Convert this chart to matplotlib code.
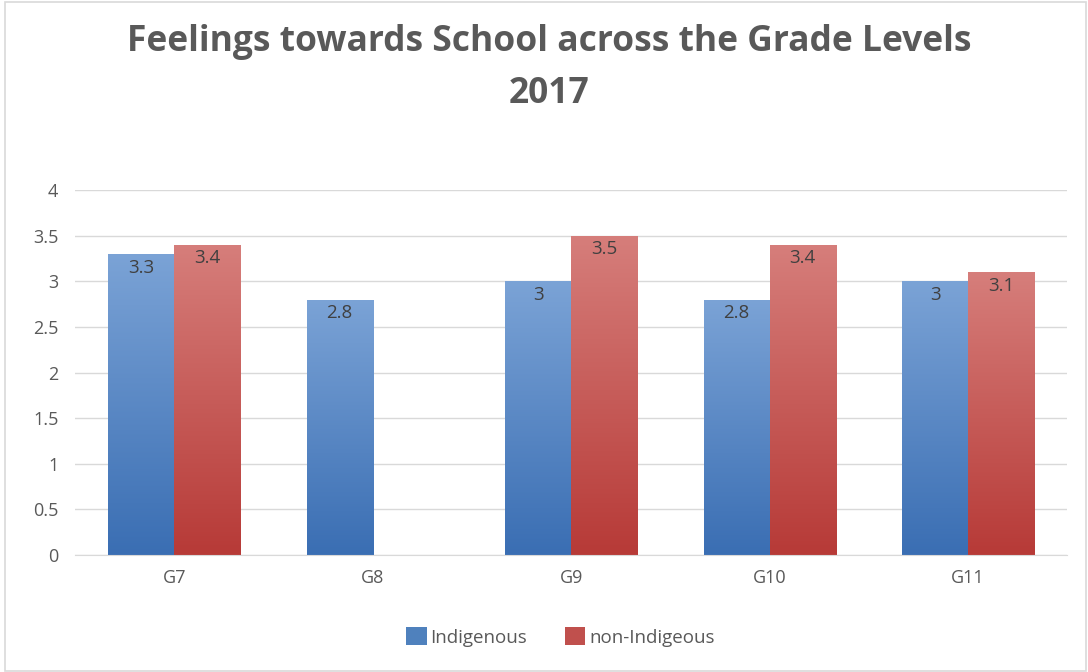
import numpy as np
import matplotlib
matplotlib.use("Agg")
import matplotlib.pyplot as plt
from matplotlib.patches import Rectangle, Patch
from matplotlib.colors import LinearSegmentedColormap

grades = ["G7", "G8", "G9", "G10", "G11"]
indigenous = [3.3, 2.8, 3.0, 2.8, 3.0]
non_indigenous = [3.4, np.nan, 3.5, 3.4, 3.1]
labels_ind = ["3.3", "2.8", "3", "2.8", "3"]
labels_non = ["3.4", "", "3.5", "3.4", "3.1"]

plt.rcParams['font.family'] = ['Open Sans', 'DejaVu Sans']
txt = '#595959'

fig = plt.figure(figsize=(10.88, 6.72), dpi=100)
ax = fig.add_axes([0.069, 0.174, 0.912, 0.543])

blue_cm = LinearSegmentedColormap.from_list('b', ['#3A6EB3', '#7BA3D6'])
red_cm = LinearSegmentedColormap.from_list('r', ['#B73A37', '#D67E7B'])
grad = np.linspace(0, 1, 256).reshape(-1, 1)

w = 1 / 3
x = np.arange(len(grades))

def gradient_bar(xl, h, cmap):
    rect = Rectangle((xl, 0), w, h, facecolor='none', edgecolor='none')
    ax.add_patch(rect)
    im = ax.imshow(grad, cmap=cmap, origin='lower', aspect='auto',
                   extent=(xl, xl + w, 0, h), zorder=2)
    im.set_clip_path(rect)

for i in range(len(grades)):
    if not np.isnan(indigenous[i]):
        gradient_bar(x[i] - w, indigenous[i], blue_cm)
        ax.text(x[i] - w / 2, indigenous[i] - 0.05, labels_ind[i], ha='center', va='top',
                fontsize=13.5, color='#404040', zorder=3)
    if not np.isnan(non_indigenous[i]):
        gradient_bar(x[i], non_indigenous[i], red_cm)
        ax.text(x[i] + w / 2, non_indigenous[i] - 0.05, labels_non[i], ha='center', va='top',
                fontsize=13.5, color='#404040', zorder=3)

ax.set_xlim(-0.5, len(grades) - 0.5)
ax.set_ylim(0, 4)
ax.set_yticks(np.arange(0, 4.01, 0.5))
ax.set_yticklabels(["0", "0.5", "1", "1.5", "2", "2.5", "3", "3.5", "4"])
ax.set_xticks(x)
ax.set_xticklabels(grades)
ax.grid(axis='y', color='#D9D9D9', linewidth=1, zorder=0)
ax.set_axisbelow(True)
for s in ['top', 'right', 'left']:
    ax.spines[s].set_visible(False)
ax.spines['bottom'].set_color('#D9D9D9')
ax.tick_params(axis='both', length=0, labelsize=13, colors=txt, pad=10)
ax.tick_params(axis='y', pad=12)

fig.text(0.505, 0.965, "Feelings towards School across the Grade Levels\n2017",
         ha='center', va='top', fontsize=25.5, fontweight='bold', color=txt, linespacing=1.6)

handles = [Patch(facecolor='#4F81BD'), Patch(facecolor='#C0504D')]
fig.legend(handles, ["Indigenous", "non-Indigeous"], loc='center', bbox_to_anchor=(0.515, 0.052),
           ncol=2, frameon=False, fontsize=13.5, handlelength=1.1, handleheight=1.1,
           handletextpad=0.2, columnspacing=2.0, labelcolor=txt)

fig.add_artist(Rectangle((0.005, 0.002), 0.993, 0.995, transform=fig.transFigure,
                         fill=False, edgecolor='#D9D9D9', linewidth=1.2))

fig.savefig('out.png', dpi=100)
